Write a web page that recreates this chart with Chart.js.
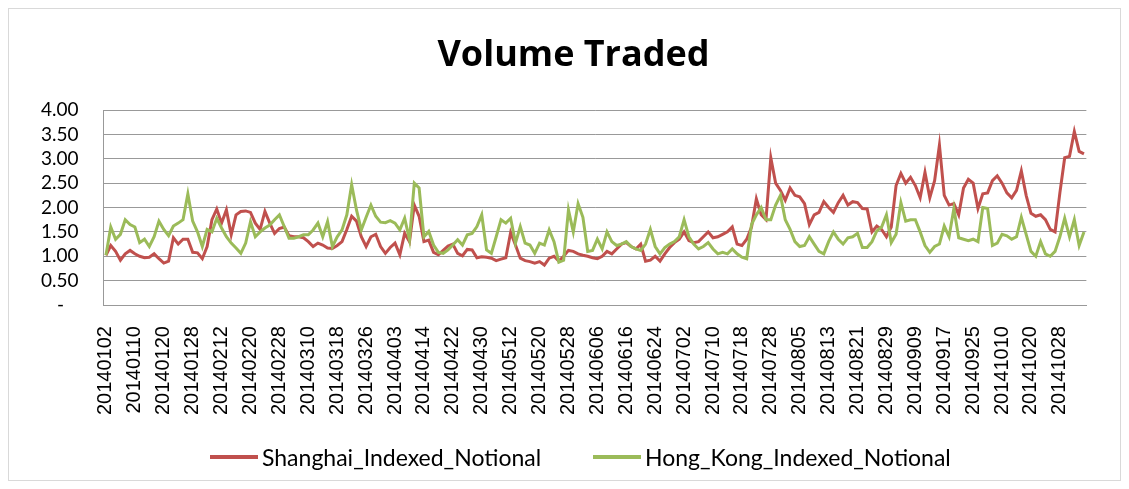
<!DOCTYPE html>
<html><head><meta charset="utf-8">
<script src="https://cdn.jsdelivr.net/npm/chart.js@4.4.0/dist/chart.umd.min.js"></script>
<style>
html,body{margin:0;padding:0;background:#fff;}
#wrap{width:1129px;height:489px;position:relative;overflow:hidden;}
#title{position:absolute;left:0;top:32px;width:1147px;height:42px;line-height:42px;text-align:center;font-family:'Open Sans',sans-serif;font-weight:bold;font-size:36px;color:#000;white-space:nowrap;}
.lg{position:absolute;top:443px;height:28px;display:flex;align-items:center;font-family:Lato,sans-serif;font-size:23px;color:#000;white-space:nowrap;}
.lg span.ln{display:inline-block;width:48px;height:4px;margin-right:4px;}
</style>
</head><body><div id="wrap"><canvas id="c" width="1129" height="489"></canvas>
<div id="title"></div>
<div class="lg" id="lg0" style="left:210px;"><span class="ln" style="background:#C0504D"></span><span class="tx"></span></div>
<div class="lg" id="lg1" style="left:593px;"><span class="ln" style="background:#9BBB59"></span><span class="tx"></span></div>
</div>
<script>
const chartTitle = "Volume Traded";
const dates = [
"20140102","20140103","20140106","20140107","20140108","20140109","20140110","20140113","20140114","20140115","20140116","20140117","20140120","20140121","20140122","20140123","20140124","20140127","20140128","20140129","20140130",
"20140207","20140210","20140211","20140212","20140213","20140214","20140217","20140218","20140219","20140220","20140221","20140224","20140225","20140226","20140227","20140228",
"20140303","20140304","20140305","20140306","20140307","20140310","20140311","20140312","20140313","20140314","20140317","20140318","20140319","20140320","20140321","20140324","20140325","20140326","20140327","20140328","20140331",
"20140401","20140402","20140403","20140404","20140408","20140409","20140410","20140411","20140414","20140415","20140416","20140417","20140418","20140421","20140422","20140423","20140424","20140425","20140428","20140429","20140430",
"20140505","20140506","20140507","20140508","20140509","20140512","20140513","20140514","20140515","20140516","20140519","20140520","20140521","20140522","20140523","20140526","20140527","20140528","20140529","20140530",
"20140603","20140604","20140605","20140606","20140609","20140610","20140611","20140612","20140613","20140616","20140617","20140618","20140619","20140620","20140623","20140624","20140625","20140626","20140627","20140630",
"20140701","20140702","20140703","20140704","20140707","20140708","20140709","20140710","20140711","20140714","20140715","20140716","20140717","20140718","20140721","20140722","20140723","20140724","20140725","20140728","20140729","20140730","20140731",
"20140801","20140804","20140805","20140806","20140807","20140808","20140811","20140812","20140813","20140814","20140815","20140818","20140819","20140820","20140821","20140822","20140825","20140826","20140827","20140828","20140829",
"20140901","20140902","20140903","20140904","20140905","20140909","20140910","20140911","20140912","20140915","20140916","20140917","20140918","20140919","20140922","20140923","20140924","20140925","20140926","20140929","20140930",
"20141008","20141009","20141010","20141013","20141014","20141015","20141016","20141017","20141020","20141021","20141022","20141023","20141024","20141027","20141028","20141029","20141030","20141031",
"20141103","20141104"
];

const shanghaiIndexed = [
1.02,1.22,1.10,0.92,1.05,1.12,1.05,1.00,0.97,0.98,1.05,0.95,0.86,0.90,1.38,1.25,1.35,1.35,1.08,1.07,0.95,
1.20,1.75,1.97,1.68,1.95,1.44,1.85,1.92,1.93,1.90,1.68,1.55,1.92,1.68,1.47,1.57,
1.60,1.42,1.40,1.40,1.38,1.30,1.20,1.27,1.23,1.17,1.16,1.22,1.30,1.55,1.82,1.72,1.40,1.20,1.40,1.45,1.20,
1.06,1.18,1.27,1.03,1.47,1.30,2.05,1.82,1.30,1.33,1.08,1.03,1.12,1.21,1.25,1.06,1.01,1.14,1.13,0.97,0.99,
0.98,0.96,0.91,0.94,0.97,1.49,1.23,0.96,0.91,0.89,0.86,0.89,0.82,0.96,1.00,0.90,1.00,1.12,1.10,1.05,
1.02,1.00,0.97,0.95,1.00,1.10,1.05,1.15,1.25,1.28,1.20,1.15,1.25,0.90,0.92,1.00,0.90,1.05,1.18,1.28,
1.35,1.50,1.32,1.28,1.30,1.40,1.50,1.38,1.40,1.45,1.50,1.60,1.25,1.22,1.35,1.60,2.18,1.85,1.75,3.02,2.50,2.35,2.15,
2.40,2.25,2.22,2.08,1.65,1.85,1.90,2.12,2.00,1.90,2.10,2.25,2.05,2.12,2.10,1.98,1.97,1.50,1.62,1.55,1.40,
1.60,2.45,2.70,2.50,2.62,2.45,2.20,2.72,2.20,2.55,3.28,2.25,2.05,2.08,1.85,2.40,2.58,2.50,1.98,2.28,2.30,
2.55,2.65,2.50,2.30,2.20,2.35,2.75,2.25,1.88,1.82,1.85,1.75,1.55,1.50,2.30,3.02,3.05,3.56,
3.15,3.10
];

const hongKongIndexed = [
1.02,1.60,1.35,1.45,1.75,1.65,1.60,1.28,1.35,1.20,1.40,1.72,1.55,1.42,1.62,1.68,1.75,2.28,1.72,1.50,1.20,
1.55,1.50,1.78,1.58,1.40,1.27,1.17,1.06,1.27,1.71,1.40,1.50,1.58,1.64,1.75,1.85,
1.61,1.37,1.37,1.40,1.44,1.44,1.54,1.68,1.40,1.71,1.20,1.40,1.54,1.85,2.47,1.95,1.54,1.80,2.05,1.82,1.70,
1.69,1.73,1.68,1.54,1.78,1.34,2.50,2.40,1.40,1.51,1.23,1.08,1.06,1.13,1.23,1.34,1.23,1.44,1.47,1.61,1.85,
1.13,1.06,1.40,1.75,1.68,1.78,1.27,1.61,1.27,1.23,1.06,1.27,1.23,1.54,1.30,0.88,0.92,1.95,1.50,2.08,
1.80,1.10,1.12,1.35,1.15,1.50,1.30,1.22,1.25,1.30,1.20,1.15,1.12,1.25,1.55,1.20,1.05,1.18,1.25,1.30,
1.40,1.75,1.40,1.25,1.15,1.20,1.28,1.15,1.05,1.08,1.05,1.15,1.05,0.98,0.95,1.65,1.85,2.00,1.75,1.75,2.05,2.25,1.75,
1.55,1.30,1.20,1.22,1.40,1.25,1.10,1.05,1.30,1.50,1.35,1.25,1.38,1.40,1.47,1.18,1.18,1.30,1.52,1.60,1.85,
1.28,1.45,2.10,1.72,1.75,1.75,1.50,1.22,1.08,1.20,1.25,1.62,1.40,1.98,1.38,1.35,1.32,1.35,1.30,2.00,1.98,
1.22,1.27,1.45,1.42,1.35,1.40,1.80,1.45,1.10,1.00,1.30,1.05,1.00,1.10,1.40,1.78,1.40,1.75,
1.22,1.50
];

const seriesNames = ["Shanghai_Indexed_Notional", "Hong_Kong_Indexed_Notional"];
const seriesColors = ["#C0504D", "#9BBB59"];
const yTickMin = 0, yTickMax = 4, yTickStep = 0.5;
const labelEvery = 6;

document.getElementById('title').textContent = chartTitle;
document.querySelector('#lg0 .tx').textContent = seriesNames[0];
document.querySelector('#lg1 .tx').textContent = seriesNames[1];

const frame = {
  id: 'frame',
  beforeDraw(chart) {
    const ctx = chart.ctx;
    ctx.save();
    ctx.fillStyle = '#ffffff';
    ctx.fillRect(0, 0, chart.width, chart.height);
    ctx.strokeStyle = '#d9d9d9';
    ctx.lineWidth = 1;
    ctx.strokeRect(8.5, 8.5, chart.width - 17, chart.height - 17);
    ctx.restore();
  }
};

new Chart(document.getElementById('c'), {
  type: 'line',
  data: {
    labels: dates,
    datasets: [
      { label: seriesNames[0], data: shanghaiIndexed, borderColor: seriesColors[0], backgroundColor: seriesColors[0], borderWidth: 3, pointRadius: 0, tension: 0, order: 1 },
      { label: seriesNames[1], data: hongKongIndexed, borderColor: seriesColors[1], backgroundColor: seriesColors[1], borderWidth: 3, pointRadius: 0, tension: 0, order: 0 }
    ]
  },
  options: {
    responsive: false,
    animation: false,
    layout: { padding: { left: 16, right: 14, top: 110, bottom: 53 } },
    plugins: {
      title: { display: false },
      legend: { display: false },
      tooltip: { enabled: false }
    },
    scales: {
      x: {
        type: 'category', offset: true,
        grid: { display: false, drawTicks: false },
        border: { display: true, color: '#999999', width: 1 },
        ticks: {
          autoSkip: false, minRotation: 90, maxRotation: 90, padding: 21, color: '#000',
          font: { family: 'Liberation Sans', size: 20 },
          callback: (v, i) => (i % labelEvery === 0 ? dates[i] : '')
        }
      },
      y: {
        min: yTickMin, max: yTickMax,
        grid: { color: '#999999', lineWidth: 1, drawTicks: false },
        border: { display: true, color: '#999999', width: 1 },
        ticks: {
          autoSkip: false, stepSize: yTickStep, padding: 25, color: '#000',
          font: { family: 'Lato', size: 19 },
          callback: (v) => (v === 0 ? '-   ' : Number(v).toFixed(2))
        }
      }
    }
  },
  plugins: [frame]
});
</script></body></html>
